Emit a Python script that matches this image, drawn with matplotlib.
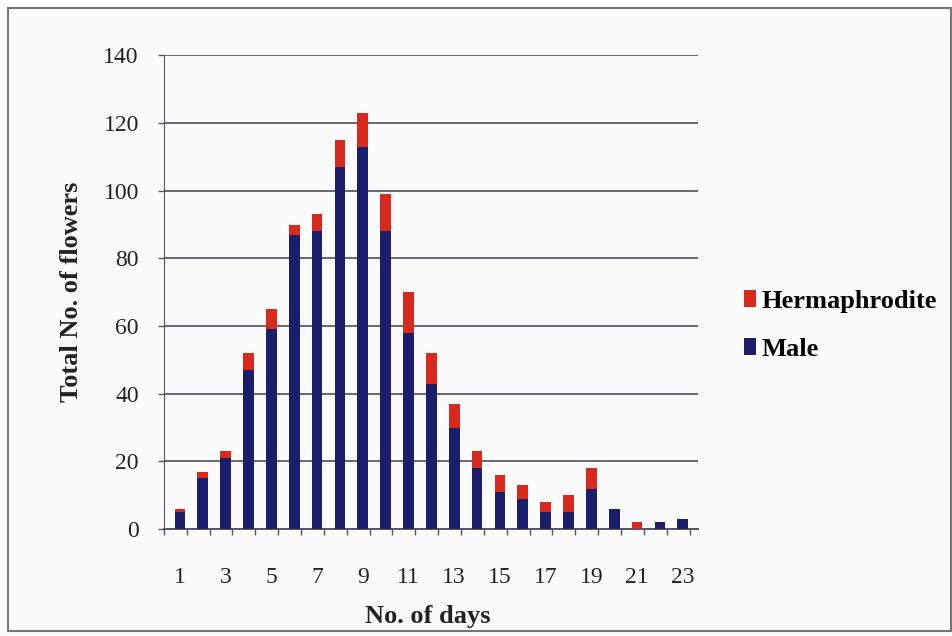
import numpy as np
import matplotlib.pyplot as plt
from matplotlib.patches import Rectangle
from matplotlib.ticker import FixedLocator

# flowers counted per day, split by sex
days = np.arange(1, 24)
male = [5, 15, 21, 47, 59, 87, 88, 107, 113, 88, 58, 43, 30, 18, 11, 9, 5, 5, 12, 6, 0, 2, 3]
herm = [1, 2, 2, 5, 6, 3, 5, 8, 10, 11, 12, 9, 7, 5, 5, 4, 3, 5, 6, 0, 2, 0, 0]
tick_days = list(range(1, 24, 2))

blue = '#1b1f6b'
red = '#d8291c'
serif = ['Liberation Serif', 'DejaVu Serif']

fig = plt.figure(figsize=(9.53, 6.36), dpi=100)
fig.patch.set_facecolor('#fbfbfb')
ax = fig.add_axes([0.172, 0.168, 0.560, 0.745])
ax.set_facecolor('#fbfbfb')

ax.bar(days, male, width=0.47, color=blue, label='Male', zorder=3)
ax.bar(days, herm, width=0.47, bottom=male, color=red, label='Hermaphrodite', zorder=3)

ax.set_xlim(0.3, 23.65)
ax.set_ylim(0, 140)
ax.set_yticks(np.arange(0, 141, 20))
ax.yaxis.grid(True, color='#5a5a6a', linewidth=1.3, zorder=0)

ax.set_xticks(tick_days)
ax.xaxis.set_minor_locator(FixedLocator(np.arange(0.3, 23.4, 1)))
ax.tick_params(axis='x', which='major', length=0, pad=27, labelsize=17)
ax.tick_params(axis='x', which='minor', length=4, width=1, color='#555555', direction='out')
ax.tick_params(axis='y', length=4, width=1, color='#555555', pad=14, labelsize=17)
for lab in ax.get_xticklabels() + ax.get_yticklabels():
    lab.set_family(serif)
    lab.set_color('#222222')

for side in ['top', 'right']:
    ax.spines[side].set_visible(False)
ax.spines['left'].set_color('#555555')
ax.spines['bottom'].set_color('#555566')
ax.spines['bottom'].set_linewidth(1.4)

ax.set_xlabel('No. of days', family=serif, fontweight='bold', fontsize=19, color='#222222')
ax.set_ylabel('Total No. of flowers', family=serif, fontweight='bold', fontsize=19, color='#222222')
ax.xaxis.set_label_coords(0.494, -0.16)
ax.yaxis.set_label_coords(-0.152, 0.5)

handles, labels = ax.get_legend_handles_labels()
leg = fig.legend(handles[::-1], labels[::-1], loc='center left', bbox_to_anchor=(0.756, 0.488),
                 frameon=False, handlelength=0.45, handleheight=0.6, handletextpad=0.2,
                 labelspacing=0.95, prop={'family': serif, 'weight': 'bold', 'size': 19})

# outer chart border
fig.add_artist(Rectangle((0.008, 0.008), 0.99, 0.98, transform=fig.transFigure,
                         fill=False, edgecolor='#777777', linewidth=1.5))

fig.savefig('out.png', dpi=100, facecolor=fig.get_facecolor())
